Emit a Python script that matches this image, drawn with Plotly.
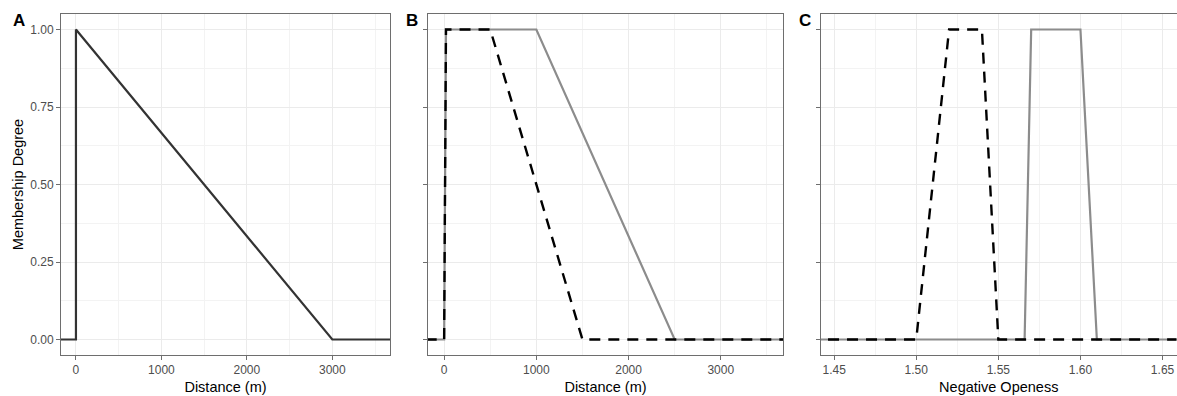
import plotly.graph_objects as go

# ---- data ----
a_x = [-200, 0, 0, 3000, 3800]
a_y = [0, 0, 1, 0, 0]

b_solid_x = [-200, 0, 20, 1000, 2500, 3800]
b_solid_y = [0, 0, 1, 1, 0, 0]
b_dash_x = [-200, 0, 20, 500, 1500, 3800]
b_dash_y = [0, 0, 1, 1, 0, 0]

c_dash_x = [1.40, 1.50, 1.52, 1.54, 1.55, 1.70]
c_dash_y = [0, 0, 1, 1, 0, 0]
c_solid_x = [1.40, 1.566, 1.57, 1.60, 1.61, 1.70]
c_solid_y = [0, 0, 1, 1, 0, 0]

y_ticks = [0, 0.25, 0.5, 0.75, 1.0]
y_ticklabels = ["0.00", "0.25", "0.50", "0.75", "1.00"]
dist_ticks = [0, 1000, 2000, 3000]
open_ticks = [1.45, 1.50, 1.55, 1.60, 1.65]
open_ticklabels = ["1.45", "1.50", "1.55", "1.60", "1.65"]
panel_letters = ["A", "B", "C"]

W, H = 1177, 396

def px(xp):
    return xp / W

def py(yp):
    return 1 - yp / H

FONT = "Liberation Sans, Arial, sans-serif"
DARK = "#333333"
GREY = "#8c8c8c"
BORDER = "#6e6e6e"
GRID = "#ebebeb"
MINOR = "#f3f3f3"
DASH = "11px,8px"

fig = go.Figure()
fig.add_trace(go.Scatter(x=a_x, y=a_y, mode="lines", line=dict(color=DARK, width=2.2),
                         xaxis="x", yaxis="y", showlegend=False))
fig.add_trace(go.Scatter(x=b_solid_x, y=b_solid_y, mode="lines", line=dict(color=GREY, width=2.2),
                         xaxis="x2", yaxis="y2", showlegend=False))
fig.add_trace(go.Scatter(x=b_dash_x, y=b_dash_y, mode="lines",
                         line=dict(color="black", width=2.4, dash=DASH),
                         xaxis="x2", yaxis="y2", showlegend=False))
fig.add_trace(go.Scatter(x=c_solid_x, y=c_solid_y, mode="lines", line=dict(color=GREY, width=2.2),
                         xaxis="x3", yaxis="y3", showlegend=False))
fig.add_trace(go.Scatter(x=c_dash_x, y=c_dash_y, mode="lines",
                         line=dict(color="black", width=2.4, dash=DASH),
                         xaxis="x3", yaxis="y3", showlegend=False))

ydom = [py(355), py(14)]
xdoms = [[px(61), px(390)], [px(428), px(783)], [px(821), px(1176.5)]]

common_axis = dict(
    showline=True, linecolor=BORDER, linewidth=1, mirror=True,
    ticks="outside", ticklen=4, tickwidth=1, tickcolor=BORDER,
    showgrid=True, gridcolor=GRID, gridwidth=1, zeroline=False, automargin=False,
    tickfont=dict(family=FONT, size=12, color="#4d4d4d"),
)

def xaxis(dom, rng, tickvals, ticktext, minor_dtick, title, anchor):
    d = dict(common_axis)
    d.update(domain=dom, range=rng, tickvals=tickvals, ticktext=ticktext, anchor=anchor,
             minor=dict(dtick=minor_dtick, tick0=tickvals[0] - minor_dtick, showgrid=True,
                        gridcolor=MINOR, gridwidth=1, ticks=""),
             title=dict(text=title, font=dict(family=FONT, size=14.5, color="black"), standoff=5))
    return d

def yaxis(anchor, show_labels, title):
    d = dict(common_axis)
    d.update(domain=ydom, range=[-0.05, 1.05], tickvals=y_ticks,
             ticktext=y_ticklabels if show_labels else [""] * len(y_ticks),
             showticklabels=show_labels, anchor=anchor,
             minor=dict(tickvals=[0.125, 0.375, 0.625, 0.875], showgrid=True,
                        gridcolor=MINOR, gridwidth=1, ticks=""))
    if title:
        d["title"] = dict(text=title, font=dict(family=FONT, size=14.5, color="black"), standoff=3)
    return d

fig.update_layout(
    width=W, height=H,
    margin=dict(l=0, r=0, t=0, b=0),
    paper_bgcolor="white", plot_bgcolor="white",
    xaxis=xaxis(xdoms[0], [-175, 3675], dist_ticks, [str(v) for v in dist_ticks], 500, "Distance (m)", "y"),
    xaxis2=xaxis(xdoms[1], [-175, 3675], dist_ticks, [str(v) for v in dist_ticks], 500, "Distance (m)", "y2"),
    xaxis3=xaxis(xdoms[2], [1.442, 1.6585], open_ticks, open_ticklabels, 0.025, "Negative Openess", "y3"),
    yaxis=yaxis("x", True, "Membership Degree"),
    yaxis2=yaxis("x2", False, None),
    yaxis3=yaxis("x3", False, None),
)

letter_x = [19, 412, 805]
for lx, letter in zip(letter_x, panel_letters):
    fig.add_annotation(x=px(lx), y=py(21), xref="paper", yref="paper", text=f"<b>{letter}</b>",
                       showarrow=False, xanchor="center", yanchor="middle",
                       font=dict(family=FONT, size=17, color="black"))

fig.write_html(
    "out.html",
    config={"displayModeBar": False},
    post_script="document.body.style.margin='0';document.body.style.overflow='hidden';",
)
